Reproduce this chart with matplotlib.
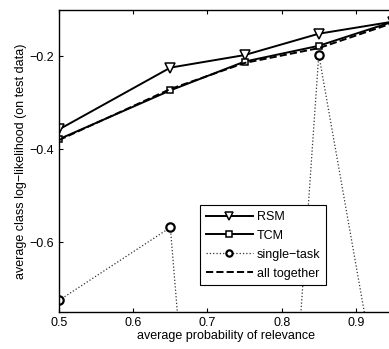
import matplotlib
matplotlib.use("Agg")
import matplotlib.pyplot as plt

plt.rcParams['font.family'] = ['Liberation Sans', 'DejaVu Sans']
plt.rcParams['font.size'] = 9

prob = [0.5, 0.65, 0.75, 0.85, 0.95]
rsm = [-0.357, -0.224, -0.197, -0.151, -0.125]
tcm = [-0.378, -0.273, -0.211, -0.177, -0.125]
single_task = [-0.725, -0.568, -2.5, -0.196, -1.1]
all_together = [-0.380, -0.270, -0.214, -0.182, -0.128]

fig = plt.figure(figsize=(3.89, 3.49), dpi=100)
ax = fig.add_axes([0.1517, 0.106, 0.8586, 0.8653])

ax.plot(prob, rsm, 'k-', marker='v', markersize=7, markerfacecolor='white',
        markeredgewidth=1.1, linewidth=1.4, label='RSM')
ax.plot(prob, tcm, 'k-', marker='s', markersize=5, markerfacecolor='white',
        markeredgewidth=1.1, linewidth=1.4, label='TCM')
ax.plot(prob, single_task, ':', color='#333333', marker='o', markersize=6,
        markerfacecolor='white', markeredgecolor='black',
        markeredgewidth=1.6, linewidth=0.9, label='single\u2212task')
ax.plot(prob, all_together, 'k--', linewidth=1.4, label='all together')

ax.set_xlim(0.5, 0.95)
ax.set_ylim(-0.75, -0.1)
ax.set_xticks([0.5, 0.6, 0.7, 0.8, 0.9])
ax.set_yticks([-0.6, -0.4, -0.2])
ax.set_yticklabels(['\u22120.6', '\u22120.4', '\u22120.2'])
ax.tick_params(direction='in', top=True, right=True, length=3, width=0.8, labelsize=9)
for s in ax.spines.values():
    s.set_linewidth(1.0)

ax.set_xlabel('average probability of relevance', labelpad=1)
ax.set_ylabel('average class log\u2212likelihood (on test data)', labelpad=2)

leg = ax.legend(loc='lower left', bbox_to_anchor=(0.422, 0.089), fancybox=False,
                framealpha=1, edgecolor='black', borderpad=0.45, labelspacing=0.55,
                handlelength=3.8, handletextpad=0.3, borderaxespad=0,
                markerscale=0.75, fontsize=9)
leg.get_frame().set_linewidth(0.8)

fig.savefig('out.png', dpi=100)
